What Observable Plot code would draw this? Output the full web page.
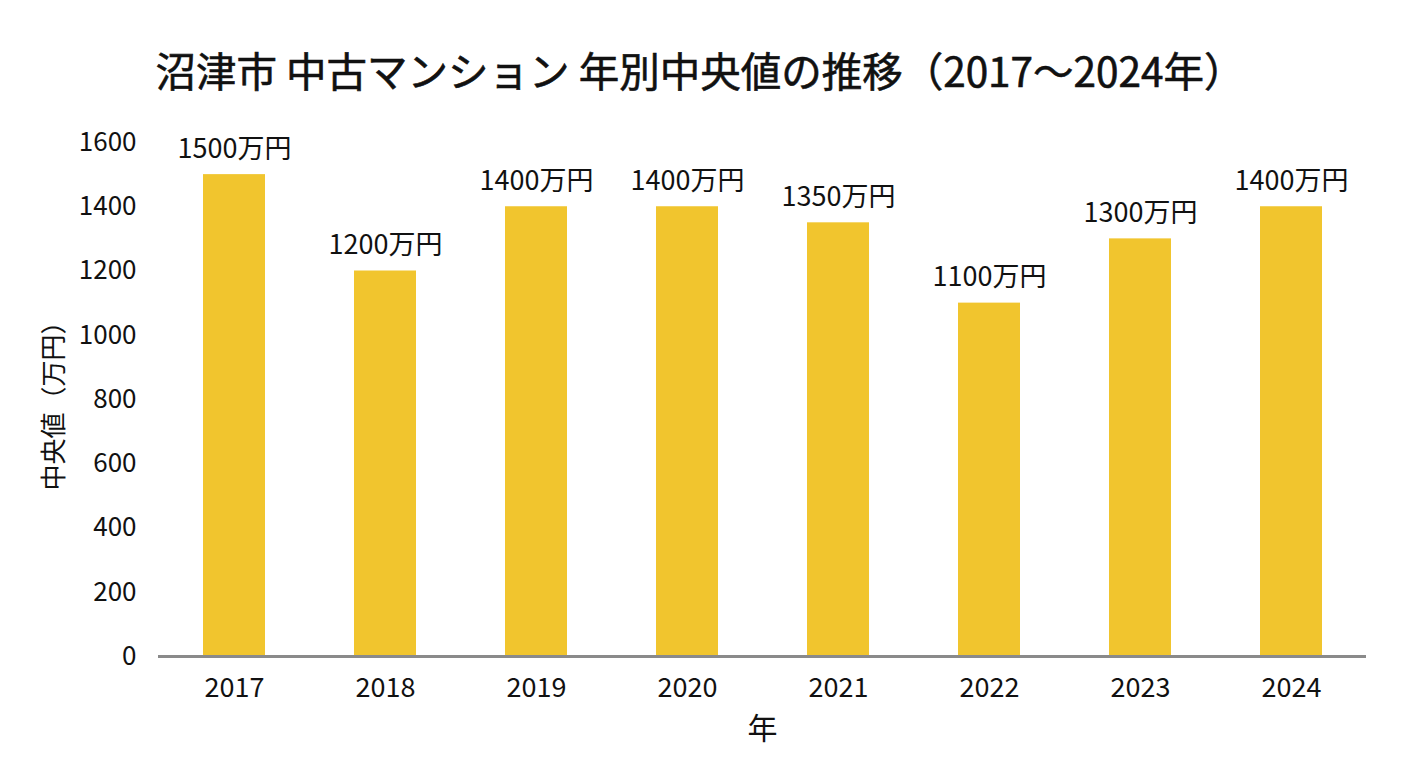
<!DOCTYPE html>
<html>
<head>
<meta charset="utf-8">
<script src="https://cdn.jsdelivr.net/npm/d3@7"></script>
<script src="https://cdn.jsdelivr.net/npm/@observablehq/plot@0.6"></script>
<style>
  html, body { margin: 0; padding: 0; background: #fff; width: 1408px; height: 768px; overflow: hidden; }
  body { font-family: "Noto Sans CJK JP", "Noto Sans", sans-serif; }
  #title { position: relative; height: 110px; }
  #title h1 { position: absolute; left: 10px; width: 1380px; top: 42px; margin: 0; text-align: center;
    font-size: 40.5px; font-weight: 400; line-height: 56px; color: #111; letter-spacing: 0;
    -webkit-text-stroke: 0.6px #111; }
  #chart svg { display: block; }
</style>
</head>
<body>
<div id="title"><h1>沼津市 中古マンション 年別中央値の推移（2017～2024年）</h1></div>
<div id="chart"></div>
<script>
const years = ["2017", "2018", "2019", "2020", "2021", "2022", "2023", "2024"];
const medians = [1500, 1200, 1400, 1400, 1350, 1100, 1300, 1400];
const yTicks = [0, 200, 400, 600, 800, 1000, 1200, 1400, 1600];
const unit = "万円";
const xLabel = "年";
const yLabel = "中央値（万円）";

const data = years.map((y, i) => ({ year: y, value: medians[i] }));

const chart = Plot.plot({
  width: 1408,
  height: 650,
  marginTop: 32,
  marginBottom: 104,
  marginLeft: 158,
  marginRight: 42,
  style: { fontFamily: '"Noto Sans CJK JP", "Noto Sans", sans-serif', fontSize: "26px", color: "#111", background: "#fff" },
  x: { domain: years, paddingInner: 0.59, paddingOuter: 0.295, label: null },
  y: { domain: [0, 1600], ticks: yTicks, label: null },
  marks: [
    Plot.barY(data, { x: "year", y: "value", fill: "#F1C52E" }),
    Plot.ruleY([0], { stroke: "#8a8a8a", strokeWidth: 3 }),
    Plot.text(data, { x: "year", y: "value", text: d => d.value + unit, dy: -17, lineAnchor: "bottom", fontSize: 27, fill: "#111" }),
    Plot.axisX({ tickSize: 0, tickPadding: 21, fontSize: 27, label: null }),
    Plot.axisY({ ticks: yTicks, tickFormat: d => String(d), tickSize: 0, tickPadding: 22, fontSize: 26, label: null }),
    Plot.text([xLabel], { frameAnchor: "bottom", dy: 82, fontSize: 30, fill: "#111" }),
    Plot.text([yLabel], { frameAnchor: "left", textAnchor: "middle", lineAnchor: "middle", dx: -104, rotate: -90, fontSize: 26, fill: "#111" })
  ]
});
document.getElementById("chart").appendChild(chart);
</script>
</body>
</html>
